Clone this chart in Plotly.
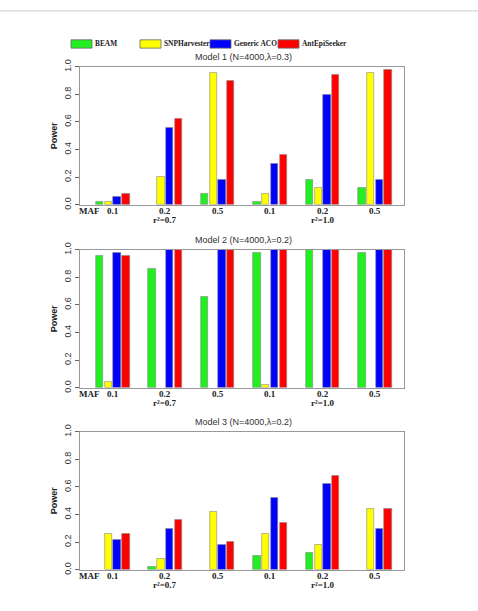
import plotly.graph_objects as go

methods = ["BEAM", "SNPHarvester", "Generic ACO", "AntEpiSeeker"]
colors = ["#22ee22", "#ffff00", "#0000ff", "#ff0000"]
maf_labels = ["0.1", "0.2", "0.5", "0.1", "0.2", "0.5"]
r2_labels = ["r²=0.7", "r²=1.0"]
titles = ["Model 1 (N=4000,λ=0.3)", "Model 2 (N=4000,λ=0.2)", "Model 3 (N=4000,λ=0.2)"]

# values per method, 6 groups each
model1 = {
    "BEAM":         [0.02, 0.00, 0.08, 0.02, 0.18, 0.12],
    "SNPHarvester": [0.02, 0.20, 0.96, 0.08, 0.12, 0.96],
    "Generic ACO":  [0.06, 0.56, 0.18, 0.30, 0.80, 0.18],
    "AntEpiSeeker": [0.08, 0.62, 0.90, 0.36, 0.94, 0.98],
}
model2 = {
    "BEAM":         [0.96, 0.86, 0.66, 0.98, 1.00, 0.98],
    "SNPHarvester": [0.04, 0.00, 0.00, 0.02, 0.00, 0.00],
    "Generic ACO":  [0.98, 1.00, 1.00, 1.00, 1.00, 1.00],
    "AntEpiSeeker": [0.96, 1.00, 1.00, 1.00, 1.00, 1.00],
}
model3 = {
    "BEAM":         [0.00, 0.02, 0.00, 0.10, 0.12, 0.00],
    "SNPHarvester": [0.26, 0.08, 0.42, 0.26, 0.18, 0.44],
    "Generic ACO":  [0.22, 0.30, 0.18, 0.52, 0.62, 0.30],
    "AntEpiSeeker": [0.26, 0.36, 0.20, 0.34, 0.68, 0.44],
}
models = [model1, model2, model3]

W, H = 478, 611
x0, x1 = 80, 404.3
panels_px = [(60, 201), (247, 388), (433, 574)]
GROUP = 6
xrange_ = [-2.25, 34.85]

fig = go.Figure()
serif = "Liberation Serif"
sans = "Liberation Sans"


def ann(text, x, y, font, xref="paper", xanchor="center"):
    fig.add_annotation(text=text, xref=xref, yref="paper", x=x, y=y,
                       xanchor=xanchor, yanchor="middle", showarrow=False, font=font)


lab_font = dict(family=serif, size=9, color="#222222")

for p, (model, (top, bot)) in enumerate(zip(models, panels_px)):
    sfx = "" if p == 0 else str(p + 1)
    for k, m in enumerate(methods):
        vals = model[m]
        xs = [g * GROUP + k for g in range(len(vals))]
        fig.add_trace(go.Bar(
            x=xs, y=vals, width=0.84, name=m, showlegend=False,
            marker=dict(color=colors[k],
                        line=dict(color="#888888", width=[0.6 if v > 0 else 0 for v in vals])),
            xaxis="x" + sfx, yaxis="y" + sfx,
        ))
    dom_y = [1 - bot / H, 1 - top / H]
    fig.layout["xaxis" + sfx] = dict(
        domain=[x0 / W, x1 / W], range=xrange_, showticklabels=False, ticks="",
        showgrid=False, zeroline=False, showline=True, mirror=True,
        linecolor="#999999", linewidth=1, anchor="y" + sfx, fixedrange=True,
    )
    fig.layout["yaxis" + sfx] = dict(
        domain=dom_y, range=[0, 1], tickvals=[0, 0.2, 0.4, 0.6, 0.8, 1.0],
        ticktext=["0.0", "0.2", "0.4", "0.6", "0.8", "1.0"], tickangle=-90,
        ticks="outside", ticklen=4, tickcolor="#666666",
        tickfont=dict(family=sans, size=9, color="#333333"),
        showgrid=False, zeroline=False, showline=True, mirror=True,
        linecolor="#999999", linewidth=1, anchor="x" + sfx,
        title=dict(text="<b>Power</b>", font=dict(family=sans, size=9, color="#222222"), standoff=4),
    )
    xref = "x" + sfx
    ann(titles[p], 243 / W, 1 - (top - 10) / H, dict(family=sans, size=9, color="#333333"))
    ann("<b>MAF</b>", 89 / W, 1 - (bot + 6) / H, lab_font)
    for g, lab in enumerate(maf_labels):
        ann("<b>" + lab + "</b>", g * GROUP + 1.5, 1 - (bot + 6) / H, lab_font, xref=xref)
    for j, lab in enumerate(r2_labels):
        ann("<b>" + lab + "</b>", (1 + 3 * j) * GROUP + 1.5, 1 - (bot + 16) / H, lab_font, xref=xref)

# legend drawn manually
leg_boxes = [(71, 92), (140, 161), (210, 231), (278, 299)]
for (bx0, bx1), m, c in zip(leg_boxes, methods, colors):
    fig.add_shape(type="rect", xref="paper", yref="paper",
                  x0=bx0 / W, x1=bx1 / W, y0=1 - 41 / H, y1=1 - 32.5 / H,
                  fillcolor=c, line=dict(color="#666666", width=0.8))
    ann("<b>" + m + "</b>", (bx1 + 0.5) / W, 1 - 36.5 / H,
        dict(family=serif, size=7.4, color="#222222"), xanchor="left")

# top page line
fig.add_shape(type="line", xref="paper", yref="paper", x0=0, x1=1,
              y0=1 - 3 / H, y1=1 - 3 / H, line=dict(color="#cccccc", width=1))

fig.update_layout(
    width=W, height=H, margin=dict(l=0, r=0, t=0, b=0),
    paper_bgcolor="white", plot_bgcolor="white", bargap=0, barmode="overlay",
)
fig.write_html("out.html")
